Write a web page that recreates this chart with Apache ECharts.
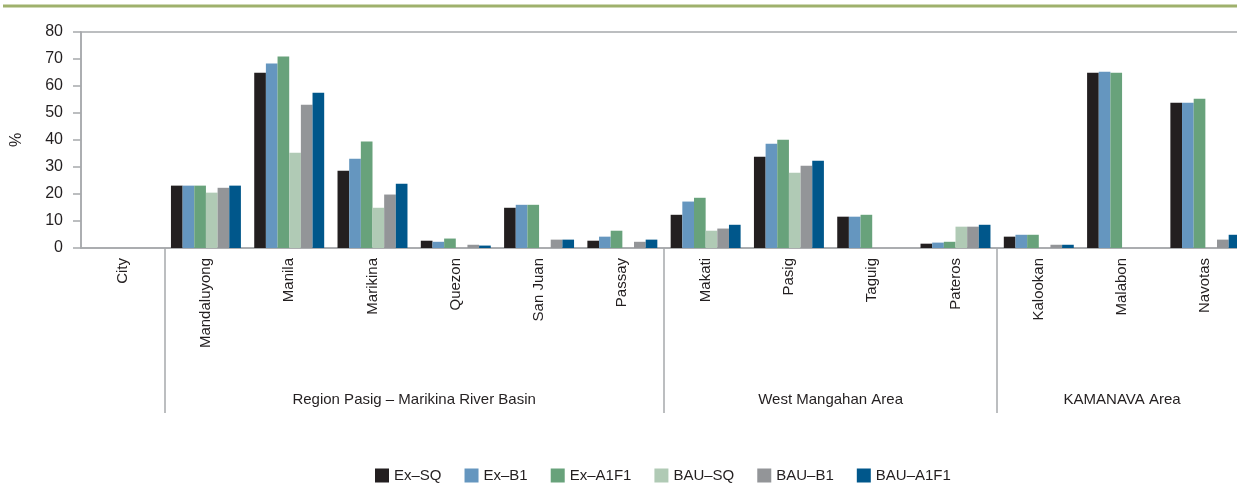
<!DOCTYPE html>
<html>
<head>
<meta charset="utf-8">
<script src="https://cdn.jsdelivr.net/npm/echarts@6/dist/echarts.min.js"></script>
<style>
  html, body { margin: 0; padding: 0; background: #fff; }
  #main { width: 1237px; height: 487px; }
</style>
</head>
<body>
<div id="main"></div>
<script>
// categories and values
var cities = ['City', 'Mandaluyong', 'Manila', 'Marikina', 'Quezon', 'San Juan', 'Passay',
  'Makati', 'Pasig', 'Taguig', 'Pateros', 'Kalookan', 'Malabon', 'Navotas'];
var exSQ    = [null, 23.1, 64.9, 28.6, 2.7, 14.9, 2.7, 12.3, 33.8, 11.6, 1.6, 4.2, 64.9, 53.8];
var exB1    = [null, 23.1, 68.3, 33.1, 2.3, 16.0, 4.2, 17.2, 38.6, 11.6, 2.0, 4.9, 65.3, 53.8];
var exA1F1  = [null, 23.1, 70.9, 39.4, 3.5, 16.0, 6.4, 18.6, 40.1, 12.3, 2.3, 4.9, 64.9, 55.3];
var bauSQ   = [null, 20.5, 35.3, 14.9, null, null, null, 6.4, 27.9, null, 7.9, null, null, null];
var bauB1   = [null, 22.3, 53.1, 19.8, 1.2, 3.1, 2.3, 7.2, 30.5, null, 7.9, 1.2, null, 3.1];
var bauA1F1 = [null, 23.1, 57.5, 23.8, 0.9, 3.1, 3.1, 8.6, 32.3, null, 8.6, 1.2, null, 4.9];

// area groups: name and first / last+1 category index
var groupNames = ['Region Pasig \u2013 Marikina River Basin', 'West Mangahan Area', 'KAMANAVA Area'];
var groupBounds = [1, 7, 11, 14];

var seriesNames = ['Ex\u2013SQ', 'Ex\u2013B1', 'Ex\u2013A1F1', 'BAU\u2013SQ', 'BAU\u2013B1', 'BAU\u2013A1F1'];
var seriesData = [exSQ, exB1, exA1F1, bauSQ, bauB1, bauA1F1];
var colors = ['#231f20', '#6596bf', '#68a27b', '#b0cab5', '#939598', '#00578b'];

var font = "'Liberation Sans', Arial, sans-serif";
var axisGray = '#a7a9ac';

var groupCenters = [];
for (var i = 0; i < groupNames.length; i++) {
  groupCenters.push((groupBounds[i] + groupBounds[i + 1]) / 2);
}

var myChart = echarts.init(document.getElementById('main'));

var series = seriesData.map(function (d, i) {
  return {
    name: seriesNames[i],
    type: 'bar',
    data: d,
    barGap: 0,
    barCategoryGap: '16%',
    itemStyle: { color: colors[i] }
  };
});

var option = {
  animation: false,
  textStyle: { fontFamily: font },
  graphic: [{
    type: 'line',
    shape: { x1: 3, y1: 6, x2: 1237, y2: 6 },
    style: { stroke: '#9fb16c', lineWidth: 3 }
  }],
  grid: {
    left: 81, top: 32, width: 1166, height: 216,
    outerBoundsMode: 'none',
    show: true, borderColor: axisGray, borderWidth: 1.5, backgroundColor: 'transparent'
  },
  legend: {
    data: seriesNames,
    left: 370, top: 463,
    icon: 'rect', itemWidth: 14, itemHeight: 14, itemGap: 23,
    textStyle: { fontFamily: font, fontSize: 15, color: '#231f20' }
  },
  xAxis: [{
    type: 'category',
    data: cities,
    axisLine: { lineStyle: { color: axisGray, width: 1.5 } },
    axisTick: { interval: 0, length: 120, lineStyle: { color: axisGray, width: 1.5 } },
    axisLabel: {
      interval: 0, rotate: 90, margin: 10,
      fontFamily: font, fontSize: 15, color: '#231f20'
    }
  }, {
    type: 'value',
    min: 0, max: cities.length,
    position: 'bottom',
    axisLine: { show: false },
    splitLine: { show: false },
    axisTick: {
      show: true, length: 165, customValues: groupBounds.slice(0, 3),
      lineStyle: { color: axisGray, width: 1.5 }
    },
    axisLabel: {
      margin: 144, customValues: groupCenters,
      fontFamily: font, fontSize: 15, color: '#231f20',
      formatter: function (v) {
        var k = groupCenters.indexOf(v);
        return k >= 0 ? groupNames[k] : '';
      }
    }
  }],
  yAxis: {
    type: 'value',
    min: 0, max: 80, interval: 10,
    name: '%', nameLocation: 'middle', nameGap: 56, nameRotate: 90,
    nameTextStyle: { fontFamily: font, fontSize: 16, color: '#231f20' },
    axisLine: { show: true, lineStyle: { color: axisGray, width: 1.5 } },
    axisTick: { show: true, length: 8, lineStyle: { color: axisGray, width: 1.5 } },
    splitLine: { show: false },
    axisLabel: { margin: 18, fontFamily: font, fontSize: 16, color: '#231f20' }
  },
  series: series
};

myChart.setOption(option);
</script>
</body>
</html>
